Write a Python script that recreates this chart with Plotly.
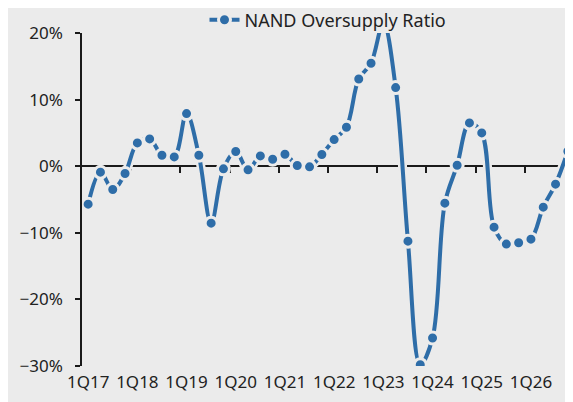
import plotly.graph_objects as go

quarters = [
    "1Q17", "2Q17", "3Q17", "4Q17", "1Q18", "2Q18", "3Q18", "4Q18",
    "1Q19", "2Q19", "3Q19", "4Q19", "1Q20", "2Q20", "3Q20", "4Q20",
    "1Q21", "2Q21", "3Q21", "4Q21", "1Q22", "2Q22", "3Q22", "4Q22",
    "1Q23", "2Q23", "3Q23", "4Q23", "1Q24", "2Q24", "3Q24", "4Q24",
    "1Q25", "2Q25", "3Q25", "4Q25", "1Q26", "2Q26", "3Q26", "4Q26",
]
oversupply_pct = [
    -5.7, -0.9, -3.5, -1.1, 3.5, 4.1, 1.65, 1.4,
    7.9, 1.65, -8.55, -0.4, 2.2, -0.55, 1.55, 1.05,
    1.8, 0.1, -0.1, 1.75, 4.0, 5.85, 13.1, 15.45,
    21.5, 11.8, -11.25, -29.8, -25.8, -5.55, 0.15, 6.5,
    5.0, -9.15, -11.7, -11.5, -10.95, -6.15, -2.7, 2.25,
]
x_tick_labels = ["1Q17", "1Q18", "1Q19", "1Q20", "1Q21", "1Q22",
                 "1Q23", "1Q24", "1Q25", "1Q26"]
y_ticks = [20, 10, 0, -10, -20, -30]
y_tick_labels = ["20%", "10%", "0%", "\u221210%", "\u221220%", "\u221230%"]
series_name = "NAND Oversupply Ratio"

BG = "#EBEBEB"
BLUE = "#2E6DA8"
FONT = "Noto Sans"

fig = go.Figure()
# background-coloured halo under the line (breaks the zero axis where crossed)
fig.add_trace(go.Scatter(
    x=quarters, y=oversupply_pct, mode="lines",
    line=dict(color=BG, width=9, shape="spline", smoothing=1),
    showlegend=False, hoverinfo="skip",
))
fig.add_trace(go.Scatter(
    x=quarters, y=oversupply_pct, mode="lines+markers", name=series_name,
    line=dict(color=BLUE, width=4, shape="spline", smoothing=1),
    marker=dict(size=12, color=BLUE, line=dict(color=BG, width=3)),
))

n = len(quarters)
fig.update_layout(
    width=573, height=402,
    margin=dict(l=74, r=7, t=25, b=44, autoexpand=False),
    paper_bgcolor=BG, plot_bgcolor=BG,
    font=dict(family=FONT, size=17, color="#222222"),
    showlegend=True,
    legend=dict(orientation="h", x=0.5, xanchor="center", y=1.039, yanchor="middle",
                bgcolor="rgba(0,0,0,0)", font=dict(size=18)),
    xaxis=dict(
        type="category", categoryorder="array", categoryarray=quarters,
        range=[-0.5, n - 0.5],
        tickmode="array", tickvals=x_tick_labels, ticktext=x_tick_labels,
        showline=False, showgrid=False, zeroline=False, ticks="",
        ticklabelstandoff=4,
    ),
    xaxis2=dict(
        overlaying="x", anchor="free", position=0.6, side="bottom",
        range=[-0.5, n - 0.5], showgrid=False, zeroline=False,
        showline=True, linecolor="#1a1a1a", linewidth=1.5,
        ticks="outside", ticklen=6, tickwidth=1.5, tickcolor="#1a1a1a",
        tickmode="array", tickvals=[i - 0.5 for i in range(4, n, 4)],
        showticklabels=False, layer="below traces",
    ),
    yaxis=dict(
        range=[-30, 20], tickmode="array", tickvals=y_ticks, ticktext=y_tick_labels,
        showgrid=False, zeroline=False, showline=True, linecolor="#1a1a1a",
        linewidth=1.5, ticks="outside", ticklen=5, tickwidth=1.5,
        tickcolor="#1a1a1a", ticklabelstandoff=9,
    ),
)
# invisible trace so xaxis2 is rendered
fig.add_trace(go.Scatter(x=[0], y=[0], xaxis="x2", mode="markers",
                         marker=dict(opacity=0), showlegend=False, hoverinfo="skip"))

fig.write_html("out.html")
